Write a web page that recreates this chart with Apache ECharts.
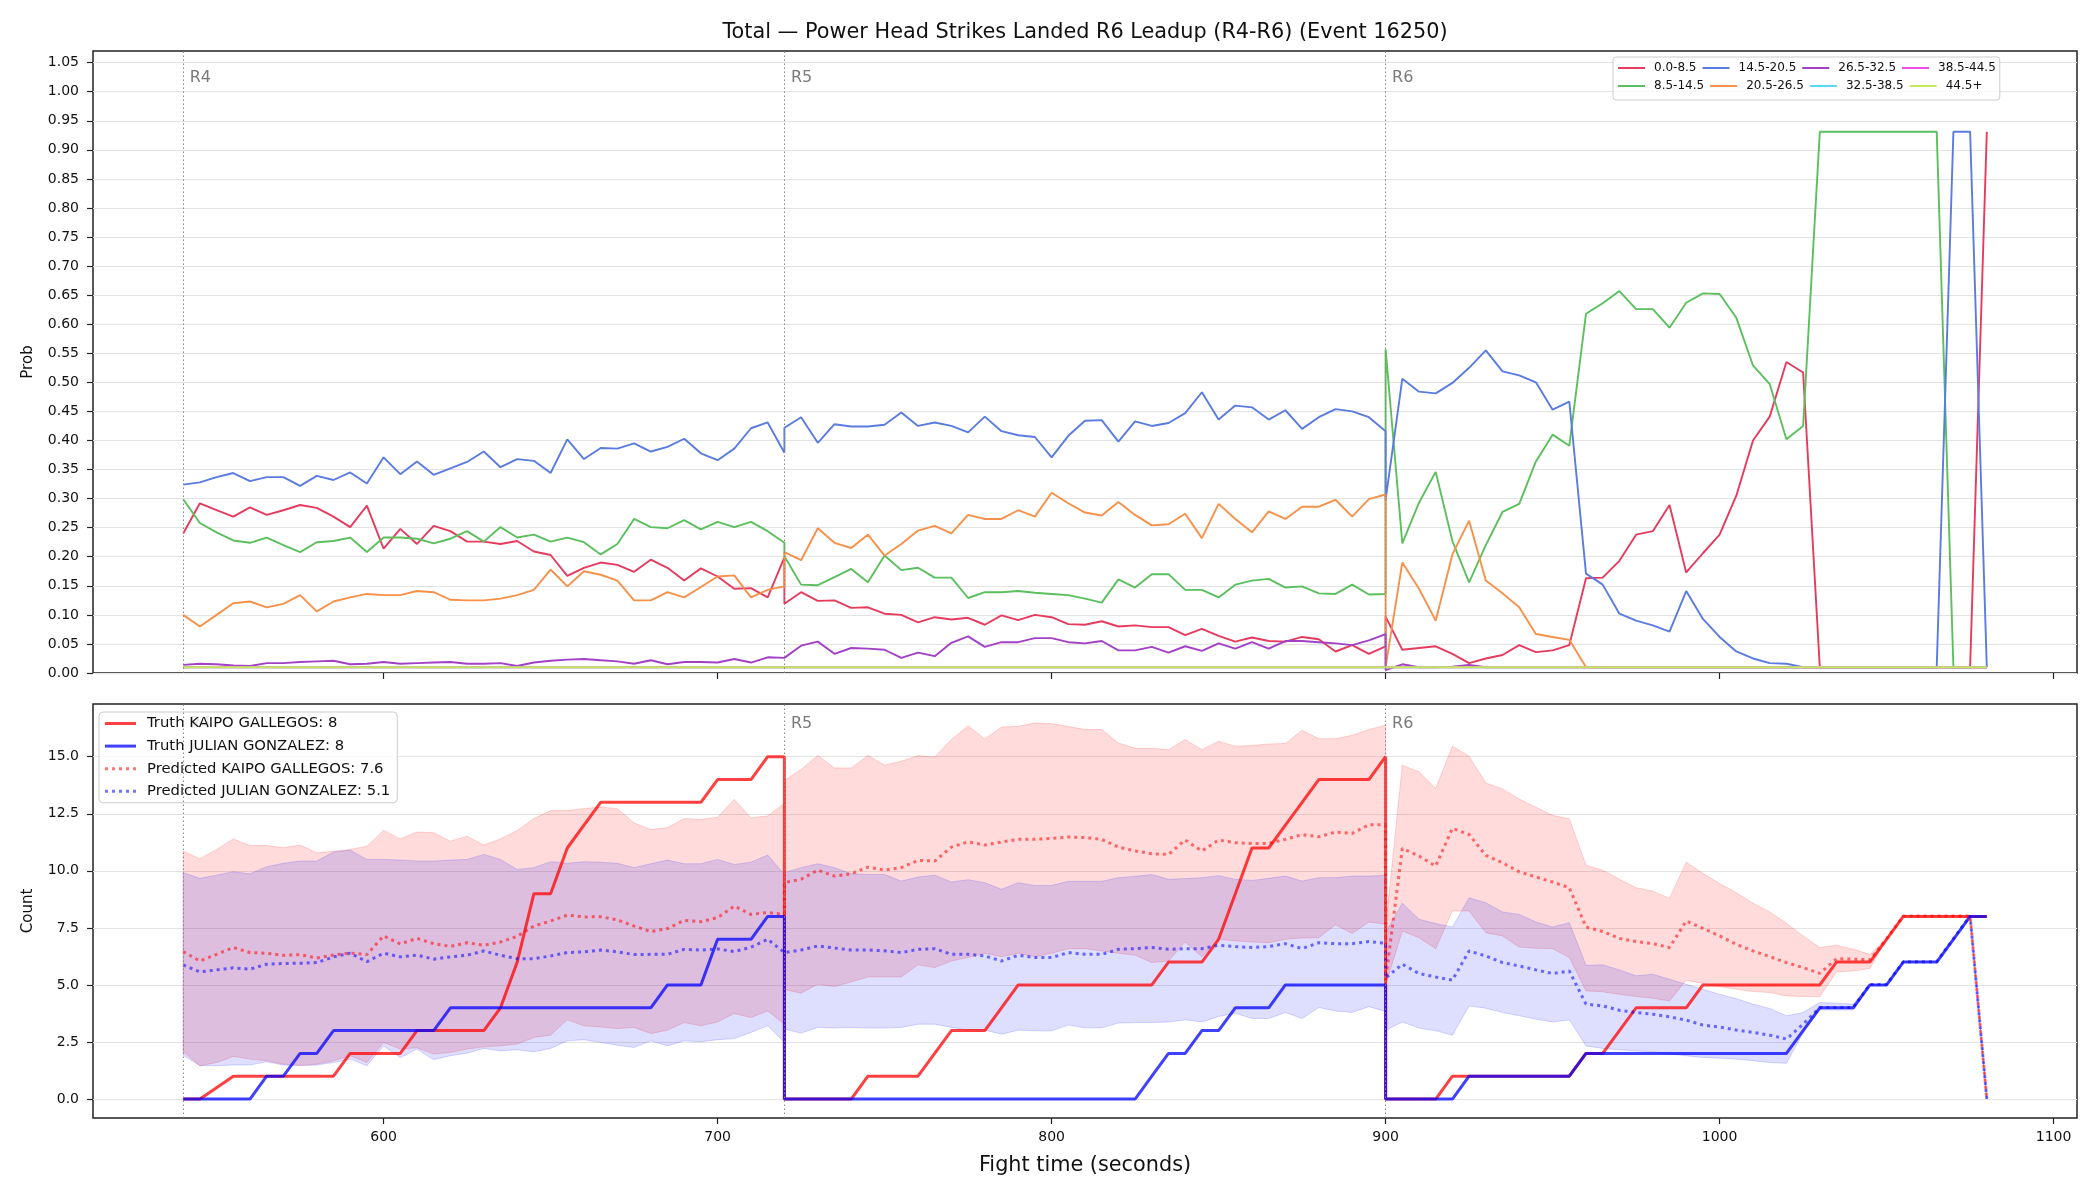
<!DOCTYPE html>
<html>
<head>
<meta charset="utf-8">
<title>Power Head Strikes Landed R6 Leadup</title>
<script src="https://cdn.jsdelivr.net/npm/echarts@6.0.0/dist/echarts.min.js"></script>
<style>
  html, body { margin: 0; padding: 0; background: #fff; }
  #chart { width: 2100px; height: 1200px; }
</style>
</head>
<body>
<div id="chart"></div>
<script>
// sample times (s), rounds R4 / R5 / R6 — boundary times appear twice
const times = [
  540,545,550,555,560,565,570,575,580,585,590,595,600,605,610,615,620,625,630,635,640,645,650,655,660,665,670,675,680,685,690,695,700,705,710,715,720,
  720,725,730,735,740,745,750,755,760,765,770,775,780,785,790,795,800,805,810,815,820,825,830,835,840,845,850,855,860,865,870,875,880,885,890,895,900,
  900,905,910,915,920,925,930,935,940,945,950,955,960,965,970,975,980,985,990,995,1000,1005,1010,1015,1020,1025,1030,1035,1040,1045,1050,1055,1060,1065,1070,1075,1080
];

const roundStarts = [540, 720, 900];
const roundNames = ['R4', 'R5', 'R6'];
const timeTicks = [600, 700, 800, 900, 1000, 1100];
const probTicks = [0, 0.05, 0.1, 0.15, 0.2, 0.25, 0.3, 0.35, 0.4, 0.45, 0.5, 0.55, 0.6, 0.65, 0.7, 0.75, 0.8, 0.85, 0.9, 0.95, 1.0, 1.05];
const countTicks = [0, 2.5, 5, 7.5, 10, 12.5, 15];

// ---- top panel: probability per bin ----
const binNames = ['0.0-8.5', '8.5-14.5', '14.5-20.5', '20.5-26.5', '26.5-32.5', '32.5-38.5', '38.5-44.5', '44.5+'];
const binColors = ['#e63b5e', '#5bbf5e', '#5a7be0', '#f7914a', '#a241c6', '#5cd8f4', '#f24ceb', '#c4e95f'];

const bin0to8 = [
  0.240,0.292,0.280,0.269,0.285,0.272,0.280,0.289,0.284,0.269,0.251,0.288,0.214,0.248,0.222,0.253,0.244,0.226,0.226,
  0.222,0.227,0.209,0.203,0.167,0.181,0.190,0.186,0.174,0.195,0.181,0.159,0.180,0.166,0.145,0.146,0.130,0.199,
  0.119,0.139,0.124,0.125,0.112,0.113,0.102,0.100,0.087,0.096,0.092,0.095,0.083,0.099,0.091,0.100,0.096,0.084,0.083,
  0.089,0.080,0.082,0.079,0.079,0.065,0.076,0.064,0.054,0.061,0.055,0.054,0.062,0.058,0.037,0.048,0.033,0.046,
  0.097,0.040,0.043,0.046,0.033,0.017,0.025,0.031,0.048,0.036,0.039,0.048,0.163,0.164,0.193,0.238,0.244,0.289,0.173,
  0.206,0.238,0.305,0.400,0.441,0.535,0.517,0.010,0.010,0.010,0.010,0.010,0.010,0.010,0.010,0.010,0.010,0.931
];
const bin8to14 = [
  0.299,0.258,0.242,0.228,0.224,0.233,0.220,0.208,0.225,0.227,0.233,0.208,0.233,0.233,0.231,0.223,0.231,0.244,0.226,
  0.251,0.233,0.238,0.226,0.233,0.225,0.204,0.222,0.265,0.251,0.249,0.263,0.247,0.260,0.251,0.260,0.244,0.224,
  0.201,0.152,0.151,0.165,0.179,0.156,0.202,0.177,0.181,0.164,0.164,0.129,0.139,0.139,0.141,0.138,0.136,0.134,0.128,
  0.121,0.161,0.147,0.170,0.170,0.143,0.143,0.130,0.152,0.159,0.162,0.147,0.149,0.137,0.136,0.152,0.135,0.136,
  0.557,0.223,0.293,0.346,0.227,0.156,0.220,0.277,0.291,0.364,0.410,0.391,0.618,0.636,0.657,0.626,0.626,0.594,0.637,
  0.653,0.652,0.611,0.529,0.497,0.402,0.425,0.931,0.931,0.931,0.931,0.931,0.931,0.931,0.931,0.010,0.010,0.010
];
const bin14to20 = [
  0.324,0.328,0.337,0.344,0.330,0.337,0.337,0.322,0.339,0.332,0.345,0.326,0.371,0.342,0.364,0.341,0.352,0.363,0.381,
  0.354,0.368,0.365,0.344,0.402,0.368,0.387,0.386,0.395,0.381,0.389,0.403,0.378,0.366,0.386,0.421,0.431,0.379,
  0.422,0.440,0.396,0.428,0.424,0.424,0.427,0.448,0.425,0.431,0.425,0.414,0.441,0.416,0.409,0.406,0.371,0.408,0.434,
  0.435,0.398,0.433,0.425,0.430,0.447,0.483,0.436,0.460,0.457,0.436,0.452,0.420,0.440,0.454,0.450,0.440,0.416,
  0.298,0.506,0.484,0.481,0.499,0.525,0.555,0.519,0.512,0.500,0.453,0.467,0.171,0.152,0.102,0.090,0.082,0.071,0.141,
  0.093,0.062,0.037,0.025,0.017,0.016,0.010,0.010,0.010,0.010,0.010,0.010,0.010,0.010,0.010,0.931,0.931,0.010
];
const bin20to26 = [
  0.100,0.080,0.100,0.120,0.123,0.113,0.119,0.134,0.106,0.123,0.130,0.136,0.134,0.134,0.141,0.139,0.126,0.125,0.125,
  0.128,0.134,0.143,0.178,0.149,0.175,0.169,0.159,0.125,0.125,0.139,0.130,0.148,0.166,0.168,0.130,0.143,0.149,
  0.208,0.194,0.249,0.224,0.215,0.238,0.202,0.222,0.245,0.253,0.240,0.272,0.265,0.265,0.280,0.269,0.310,0.292,0.276,
  0.271,0.294,0.272,0.254,0.256,0.274,0.232,0.291,0.265,0.242,0.278,0.265,0.286,0.286,0.298,0.269,0.299,0.307,
  0.010,0.190,0.145,0.090,0.204,0.262,0.159,0.137,0.113,0.067,0.062,0.057,0.010,0.010,0.010,0.010,0.010,0.010,0.010,
  0.010,0.010,0.010,0.010,0.010,0.010,0.010,0.010,0.010,0.010,0.010,0.010,0.010,0.010,0.010,0.010,0.010,0.010
];
const bin26to32 = [
  0.014,0.016,0.015,0.013,0.012,0.017,0.017,0.019,0.020,0.021,0.015,0.016,0.019,0.016,0.017,0.018,0.019,0.016,0.016,
  0.017,0.012,0.018,0.021,0.023,0.024,0.022,0.020,0.016,0.022,0.015,0.019,0.019,0.018,0.024,0.018,0.027,0.026,
  0.026,0.047,0.054,0.033,0.043,0.042,0.040,0.026,0.035,0.029,0.052,0.063,0.045,0.053,0.053,0.060,0.060,0.053,0.051,
  0.055,0.039,0.039,0.045,0.035,0.046,0.038,0.051,0.042,0.053,0.042,0.055,0.055,0.053,0.051,0.048,0.056,0.067,
  0.005,0.015,0.010,0.010,0.011,0.014,0.010,0.010,0.010,0.010,0.010,0.010,0.010,0.010,0.010,0.010,0.010,0.010,0.010,
  0.010,0.010,0.010,0.010,0.010,0.010,0.010,0.010,0.010,0.010,0.010,0.010,0.010,0.010,0.010,0.010,0.010,0.010
];
// the three highest bins stay flat at the floor for the whole window
const flatTimes = [540, 1080];
const bin32to38 = [0.01, 0.01];
const bin38to44 = [0.01, 0.01];
const bin44plus = [0.01, 0.01];

// ---- bottom panel: counts ----
const fighterNames = ['Truth KAIPO GALLEGOS: 8', 'Truth JULIAN GONZALEZ: 8', 'Predicted KAIPO GALLEGOS: 7.6', 'Predicted JULIAN GONZALEZ: 5.1'];

const truthKaipo = [
  0,0,0.5,1,1,1,1,1,1,1,2,2,2,2,3,3,3,3,3,4,6,9,9,11,12,13,13,13,13,13,13,13,14,14,14,15,15,
  0,0,0,0,0,1,1,1,1,2,3,3,3,4,5,5,5,5,5,5,5,5,5,6,6,6,7,9,11,11,12,13,14,14,14,14,15,
  0,0,0,0,1,1,1,1,1,1,1,1,2,2,3,4,4,4,4,5,5,5,5,5,5,5,5,6,6,6,7,8,8,8,8,8,8
];
const truthJulian = [
  0,0,0,0,0,1,1,2,2,3,3,3,3,3,3,3,4,4,4,4,4,4,4,4,4,4,4,4,4,5,5,5,7,7,7,8,8,
  0,0,0,0,0,0,0,0,0,0,0,0,0,0,0,0,0,0,0,0,0,0,1,2,2,3,3,4,4,4,5,5,5,5,5,5,5,
  0,0,0,0,0,1,1,1,1,1,1,1,2,2,2,2,2,2,2,2,2,2,2,2,2,3,4,4,4,5,5,6,6,6,7,8,8
];
const predKaipo = [
  6.46,6.05,6.34,6.64,6.42,6.39,6.30,6.33,6.18,6.31,6.40,6.33,7.15,6.80,7.04,6.81,6.69,6.85,6.74,
  6.88,7.13,7.58,7.80,8.06,7.98,7.99,7.85,7.58,7.34,7.47,7.83,7.77,7.95,8.46,8.09,8.17,8.09,
  9.48,9.63,10.03,9.77,9.87,10.16,10.03,10.14,10.46,10.43,11.04,11.27,11.13,11.26,11.38,11.38,11.42,11.48,11.46,
  11.38,11.04,10.87,10.75,10.72,11.35,10.87,11.35,11.23,11.20,11.20,11.38,11.59,11.49,11.70,11.64,12.02,12.02,
  5.20,10.98,10.65,10.21,11.86,11.59,10.68,10.35,9.96,9.73,9.51,9.26,7.54,7.34,7.04,6.90,6.81,6.64,7.80,
  7.48,7.15,6.78,6.49,6.24,5.98,5.76,5.51,6.15,6.13,6.10,7.03,8.02,8.02,8.02,8.02,8.02,0
];
const predJulian = [
  5.88,5.57,5.66,5.75,5.69,5.91,5.94,5.95,5.98,6.23,6.39,6.02,6.39,6.23,6.31,6.13,6.23,6.30,6.49,
  6.30,6.15,6.15,6.27,6.42,6.45,6.53,6.45,6.33,6.34,6.34,6.56,6.53,6.58,6.46,6.65,7.00,6.42,
  6.34,6.53,6.71,6.62,6.53,6.53,6.50,6.42,6.56,6.59,6.34,6.34,6.27,6.05,6.30,6.20,6.20,6.42,6.34,
  6.34,6.56,6.59,6.64,6.56,6.59,6.59,6.74,6.68,6.64,6.68,6.81,6.59,6.85,6.81,6.81,6.90,6.83,
  5.30,5.91,5.50,5.35,5.21,6.49,6.27,5.98,5.83,5.66,5.50,5.61,4.16,4.08,3.89,3.79,3.72,3.60,3.46,
  3.24,3.16,3.02,2.92,2.80,2.63,3.28,4.01,4.01,4.01,5.02,5.02,6.02,6.02,6.02,7.03,8.02,0
];
const kaipoHigh = [
  10.86,10.53,10.94,11.40,11.11,11.11,11.01,11.13,10.79,10.86,10.94,11.08,11.77,11.40,11.70,11.67,11.30,11.52,11.13,
  11.40,11.77,12.29,12.64,12.64,12.73,12.80,12.72,12.10,11.81,11.89,12.29,12.25,12.35,13.13,12.32,12.41,12.95,
  13.96,14.44,15.05,14.51,14.51,15.05,14.63,14.80,15.05,14.99,15.75,16.36,15.78,16.30,16.33,16.48,16.45,16.33,16.19,
  16.19,15.60,15.37,15.37,15.31,15.75,15.31,15.68,15.46,15.49,15.56,15.58,16.16,15.79,15.79,15.94,16.19,16.38,
  7.50,14.63,14.34,13.61,15.46,15.02,13.85,13.59,13.15,12.79,12.43,12.28,10.25,10.03,9.63,9.26,9.11,8.79,10.38,
  9.89,9.44,9.04,8.58,8.20,7.70,7.15,6.64,6.74,6.56,6.34,7.03,8.02,8.02,8.02,8.02,8.02,0
];
const kaipoLow = [
  2.07,1.46,1.60,1.87,1.75,1.68,1.53,1.49,1.53,1.68,1.90,1.60,2.48,2.19,2.25,1.97,2.04,2.19,2.29,
  2.33,2.41,2.70,2.80,3.47,3.21,3.16,3.09,3.14,2.87,3.02,3.35,3.21,3.38,3.75,3.57,3.86,3.28,
  4.80,4.64,5.03,4.93,5.13,5.35,5.35,5.35,5.88,5.76,6.05,6.20,6.39,6.24,6.39,6.24,6.39,6.59,6.59,
  6.49,6.39,6.30,5.98,6.05,6.88,6.24,7.00,6.93,6.88,6.85,7.00,7.06,7.07,7.64,7.25,7.76,7.66,
  5.00,7.36,7.07,6.59,8.24,8.24,7.29,7.15,6.66,6.61,6.59,6.20,4.74,4.70,4.59,4.49,4.42,4.30,5.21,
  5.06,4.93,4.81,4.71,4.67,4.52,4.49,4.49,5.57,5.61,5.72,7.03,8.02,8.02,8.02,8.02,8.02,0
];
const julianHigh = [
  9.92,9.67,9.81,9.96,9.87,10.18,10.33,10.43,10.43,10.82,10.91,10.50,10.50,10.47,10.43,10.43,10.47,10.50,10.72,
  10.50,10.06,10.14,10.40,10.33,10.40,10.38,10.33,10.14,10.31,10.47,10.31,10.31,10.50,10.28,10.38,10.69,9.84,
  9.92,10.14,10.31,10.14,9.87,9.84,9.84,9.55,9.73,9.81,9.51,9.61,9.48,9.19,9.48,9.36,9.36,9.54,9.54,
  9.54,9.70,9.76,9.84,9.63,9.66,9.70,9.79,9.63,9.58,9.67,9.77,9.55,9.70,9.70,9.77,9.77,9.80,
  7.30,8.58,7.88,7.69,7.54,8.82,8.60,8.20,8.09,7.76,7.54,7.73,5.86,5.88,5.66,5.40,5.47,5.25,5.03,
  4.81,4.59,4.40,4.16,3.97,3.65,3.79,4.23,4.20,4.16,5.02,5.02,6.02,6.02,6.02,7.03,8.02,0
];
const julianLow = [
  1.92,1.46,1.46,1.49,1.49,1.63,1.49,1.46,1.49,1.60,1.75,1.46,2.33,1.82,2.19,1.72,1.90,2.01,2.22,
  2.11,2.16,2.07,2.22,2.55,2.60,2.48,2.36,2.26,2.55,2.33,2.55,2.51,2.60,2.65,2.92,3.21,2.48,
  3.06,2.89,3.14,3.11,3.14,3.11,3.11,3.14,3.28,3.28,3.14,3.02,3.02,2.84,3.02,2.99,2.99,3.24,3.12,
  3.12,3.33,3.35,3.35,3.38,3.47,3.38,3.62,3.76,3.53,3.53,3.79,3.53,4.01,3.86,3.79,4.05,3.84,
  3.00,3.38,3.11,2.99,2.80,4.08,3.98,3.79,3.65,3.50,3.38,3.47,2.33,2.22,2.16,2.11,2.07,1.97,1.90,
  1.82,1.79,1.75,1.68,1.60,1.57,2.90,3.90,3.90,3.90,5.02,5.02,6.02,6.02,6.02,7.03,8.02,0
];

const chart = echarts.init(document.getElementById('chart'));
const toPairs = (xs, ys) => xs.map((x, i) => [x, ys[i]]);
const FONT = 'DejaVu Sans';

function probLine(idx, xs, ys) {
  const color = binColors[idx];
  return {
    name: binNames[idx], type: 'line', xAxisIndex: 0, yAxisIndex: 0,
    data: toPairs(xs, ys), symbol: 'none', silent: true, z: 3,
    lineStyle: { color: color, width: 1.9 }, itemStyle: { color: color }
  };
}

// shaded range between low and high, one polygon through the axis scales
function band(name, low, high, fill, edge) {
  return {
    name: name, type: 'custom', xAxisIndex: 1, yAxisIndex: 1, silent: true, z: 1,
    data: [[times[0], low[0]]],
    renderItem: function (params, api) {
      const pts = [];
      for (let i = 0; i < times.length; i++) pts.push(api.coord([times[i], high[i]]));
      for (let i = times.length - 1; i >= 0; i--) pts.push(api.coord([times[i], low[i]]));
      return { type: 'polygon', shape: { points: pts }, style: { fill: fill, stroke: edge, lineWidth: 1 } };
    }
  };
}

function roundMarks(xi, yi, labelY) {
  return {
    type: 'scatter', xAxisIndex: xi, yAxisIndex: yi, silent: true, z: 2,
    symbolSize: 1, itemStyle: { color: 'rgba(0,0,0,0)' },
    data: roundStarts.map((t, i) => ({ value: [t, labelY], name: roundNames[i] })),
    label: { show: true, position: 'right', distance: 6, formatter: p => p.name, color: '#595959', fontSize: 16, fontFamily: FONT },
    markLine: {
      silent: true, symbol: 'none', label: { show: false },
      lineStyle: { color: '#888', width: 1, type: [1.5, 2.5] },
      data: roundStarts.map(t => ({ xAxis: t }))
    }
  };
}

const solidIcon = 'path://M0,0H27V2H0Z';
const thickIcon = 'path://M0,0H31V3H0Z';
const dotIcon = 'path://M0,0H3V3H0ZM7,0H10V3H7ZM14,0H17V3H14ZM21,0H24V3H21ZM28,0H31V3H28Z';
const legendRowOrder = ['0.0-8.5', '14.5-20.5', '26.5-32.5', '38.5-44.5', '8.5-14.5', '20.5-26.5', '32.5-38.5', '44.5+'];

function legendStyleKey(name) {
  const col = legendRowOrder.indexOf(name) % 4;
  return ['a', 'c', 'c', 'd'][col];
}

const axisText = { color: '#111', fontSize: 14, fontFamily: FONT };

const option = {
  animation: false,
  backgroundColor: '#fff',
  textStyle: { fontFamily: FONT },
  title: {
    text: 'Total \u2014 Power Head Strikes Landed R6 Leadup (R4-R6) (Event 16250)',
    left: 1085, top: 22, textAlign: 'center', padding: 0,
    textStyle: { fontSize: 20.8, fontWeight: 'normal', color: '#111', fontFamily: FONT }
  },
  grid: [
    { left: 93, top: 51, width: 1984, height: 622, show: true, borderColor: '#222', borderWidth: 1.5, containLabel: false },
    { left: 93, top: 704, width: 1984, height: 414, show: true, borderColor: '#222', borderWidth: 1.5, containLabel: false }
  ],
  xAxis: [
    {
      type: 'value', gridIndex: 0, min: 513, max: 1107,
      axisLine: { show: false, onZero: false },
      axisTick: { show: true, length: 6, customValues: timeTicks, lineStyle: { color: '#222', width: 1.2 } },
      axisLabel: { show: false, customValues: timeTicks },
      splitLine: { show: false }
    },
    {
      type: 'value', gridIndex: 1, min: 513, max: 1107,
      axisLine: { show: false, onZero: false },
      axisTick: { show: true, length: 6, customValues: timeTicks, lineStyle: { color: '#222', width: 1.2 } },
      axisLabel: Object.assign({ show: true, customValues: timeTicks, margin: 12, formatter: v => String(v) }, axisText),
      splitLine: { show: false },
      name: 'Fight time (seconds)', nameLocation: 'middle', nameGap: 37,
      nameTextStyle: { fontSize: 20.8, color: '#111', fontFamily: FONT }
    }
  ],
  yAxis: [
    {
      type: 'value', gridIndex: 0, min: 0, max: 1.07,
      axisLine: { show: false, onZero: false },
      axisTick: { show: true, length: 6, customValues: probTicks, lineStyle: { color: '#222', width: 1.2 } },
      axisLabel: Object.assign({ customValues: probTicks, margin: 14, formatter: v => v.toFixed(2) }, axisText),
      splitLine: { show: true, lineStyle: { color: '#e3e3e3', width: 1 } },
      name: 'Prob', nameLocation: 'middle', nameGap: 57,
      nameTextStyle: { fontSize: 15, color: '#111', fontFamily: FONT }
    },
    {
      type: 'value', gridIndex: 1, min: -0.83, max: 17.31,
      axisLine: { show: false, onZero: false },
      axisTick: { show: true, length: 6, customValues: countTicks, lineStyle: { color: '#222', width: 1.2 } },
      axisLabel: Object.assign({ customValues: countTicks, margin: 14, formatter: v => v.toFixed(1) }, axisText),
      splitLine: { show: true, lineStyle: { color: '#e3e3e3', width: 1 } },
      name: 'Count', nameLocation: 'middle', nameGap: 57,
      nameTextStyle: { fontSize: 15, color: '#111', fontFamily: FONT }
    }
  ],
  legend: [
    {
      left: 1613, top: 57, width: 460, orient: 'horizontal',
      itemWidth: 27, itemHeight: 12, itemGap: 6, padding: [5, 4, 8, 5],
      selectedMode: false,
      backgroundColor: 'rgba(255,255,255,0.8)', borderColor: '#cccccc', borderWidth: 1, borderRadius: 3,
      data: legendRowOrder.map(n => ({ name: n, icon: solidIcon, itemStyle: { color: binColors[binNames.indexOf(n)] } })),
      formatter: name => '{' + legendStyleKey(name) + '|' + name + '}',
      textStyle: {
        fontSize: 12, color: '#111', fontFamily: FONT,
        rich: {
          a: { width: 74, fontSize: 12, color: '#111', fontFamily: FONT, padding: [0, 0, 0, 4] },
          c: { width: 82, fontSize: 12, color: '#111', fontFamily: FONT, padding: [0, 0, 0, 4] },
          d: { fontSize: 12, color: '#111', fontFamily: FONT, padding: [0, 0, 0, 4] }
        }
      }
    },
    {
      left: 99, top: 712, orient: 'vertical',
      itemWidth: 31, itemHeight: 14, itemGap: 7.6, padding: [4, 7, 4, 6],
      selectedMode: false,
      backgroundColor: 'rgba(255,255,255,0.8)', borderColor: '#cccccc', borderWidth: 1, borderRadius: 4,
      data: [
        { name: fighterNames[0], icon: thickIcon, itemStyle: { color: 'rgba(255,0,0,0.75)' } },
        { name: fighterNames[1], icon: thickIcon, itemStyle: { color: 'rgba(0,0,255,0.75)' } },
        { name: fighterNames[2], icon: dotIcon, itemStyle: { color: 'rgba(255,0,0,0.55)' } },
        { name: fighterNames[3], icon: dotIcon, itemStyle: { color: 'rgba(0,0,255,0.55)' } }
      ],
      formatter: name => '{t|' + name + '}',
      textStyle: {
        fontSize: 14.8, color: '#111', fontFamily: FONT,
        rich: { t: { fontSize: 14.8, color: '#111', fontFamily: FONT, padding: [0, 0, 0, 6] } }
      }
    }
  ],
  series: [
    roundMarks(0, 0, 1.024),
    probLine(0, times, bin0to8),
    probLine(1, times, bin8to14),
    probLine(2, times, bin14to20),
    probLine(3, times, bin20to26),
    probLine(4, times, bin26to32),
    probLine(5, flatTimes, bin32to38),
    probLine(6, flatTimes, bin38to44),
    probLine(7, flatTimes, bin44plus),

    band('Kaipo range', kaipoLow, kaipoHigh, 'rgba(255,0,0,0.14)', 'rgba(255,0,0,0.16)'),
    band('Julian range', julianLow, julianHigh, 'rgba(0,0,255,0.13)', 'rgba(0,0,255,0.15)'),
    roundMarks(1, 1, 16.43),
    {
      name: fighterNames[0], type: 'line', xAxisIndex: 1, yAxisIndex: 1, silent: true, z: 4,
      data: toPairs(times, truthKaipo), symbol: 'none',
      lineStyle: { color: '#ff0000', width: 3, opacity: 0.75 }, itemStyle: { color: '#ff0000' }
    },
    {
      name: fighterNames[1], type: 'line', xAxisIndex: 1, yAxisIndex: 1, silent: true, z: 4,
      data: toPairs(times, truthJulian), symbol: 'none',
      lineStyle: { color: '#0000ff', width: 3, opacity: 0.75 }, itemStyle: { color: '#0000ff' }
    },
    {
      name: fighterNames[2], type: 'line', xAxisIndex: 1, yAxisIndex: 1, silent: true, z: 4,
      data: toPairs(times, predKaipo), symbol: 'none',
      lineStyle: { color: '#ff0000', width: 3, opacity: 0.55, type: [3, 4] }, itemStyle: { color: '#ff0000' }
    },
    {
      name: fighterNames[3], type: 'line', xAxisIndex: 1, yAxisIndex: 1, silent: true, z: 4,
      data: toPairs(times, predJulian), symbol: 'none',
      lineStyle: { color: '#0000ff', width: 3, opacity: 0.55, type: [3, 4] }, itemStyle: { color: '#0000ff' }
    }
  ]
};

chart.setOption(option);
</script>
</body>
</html>
